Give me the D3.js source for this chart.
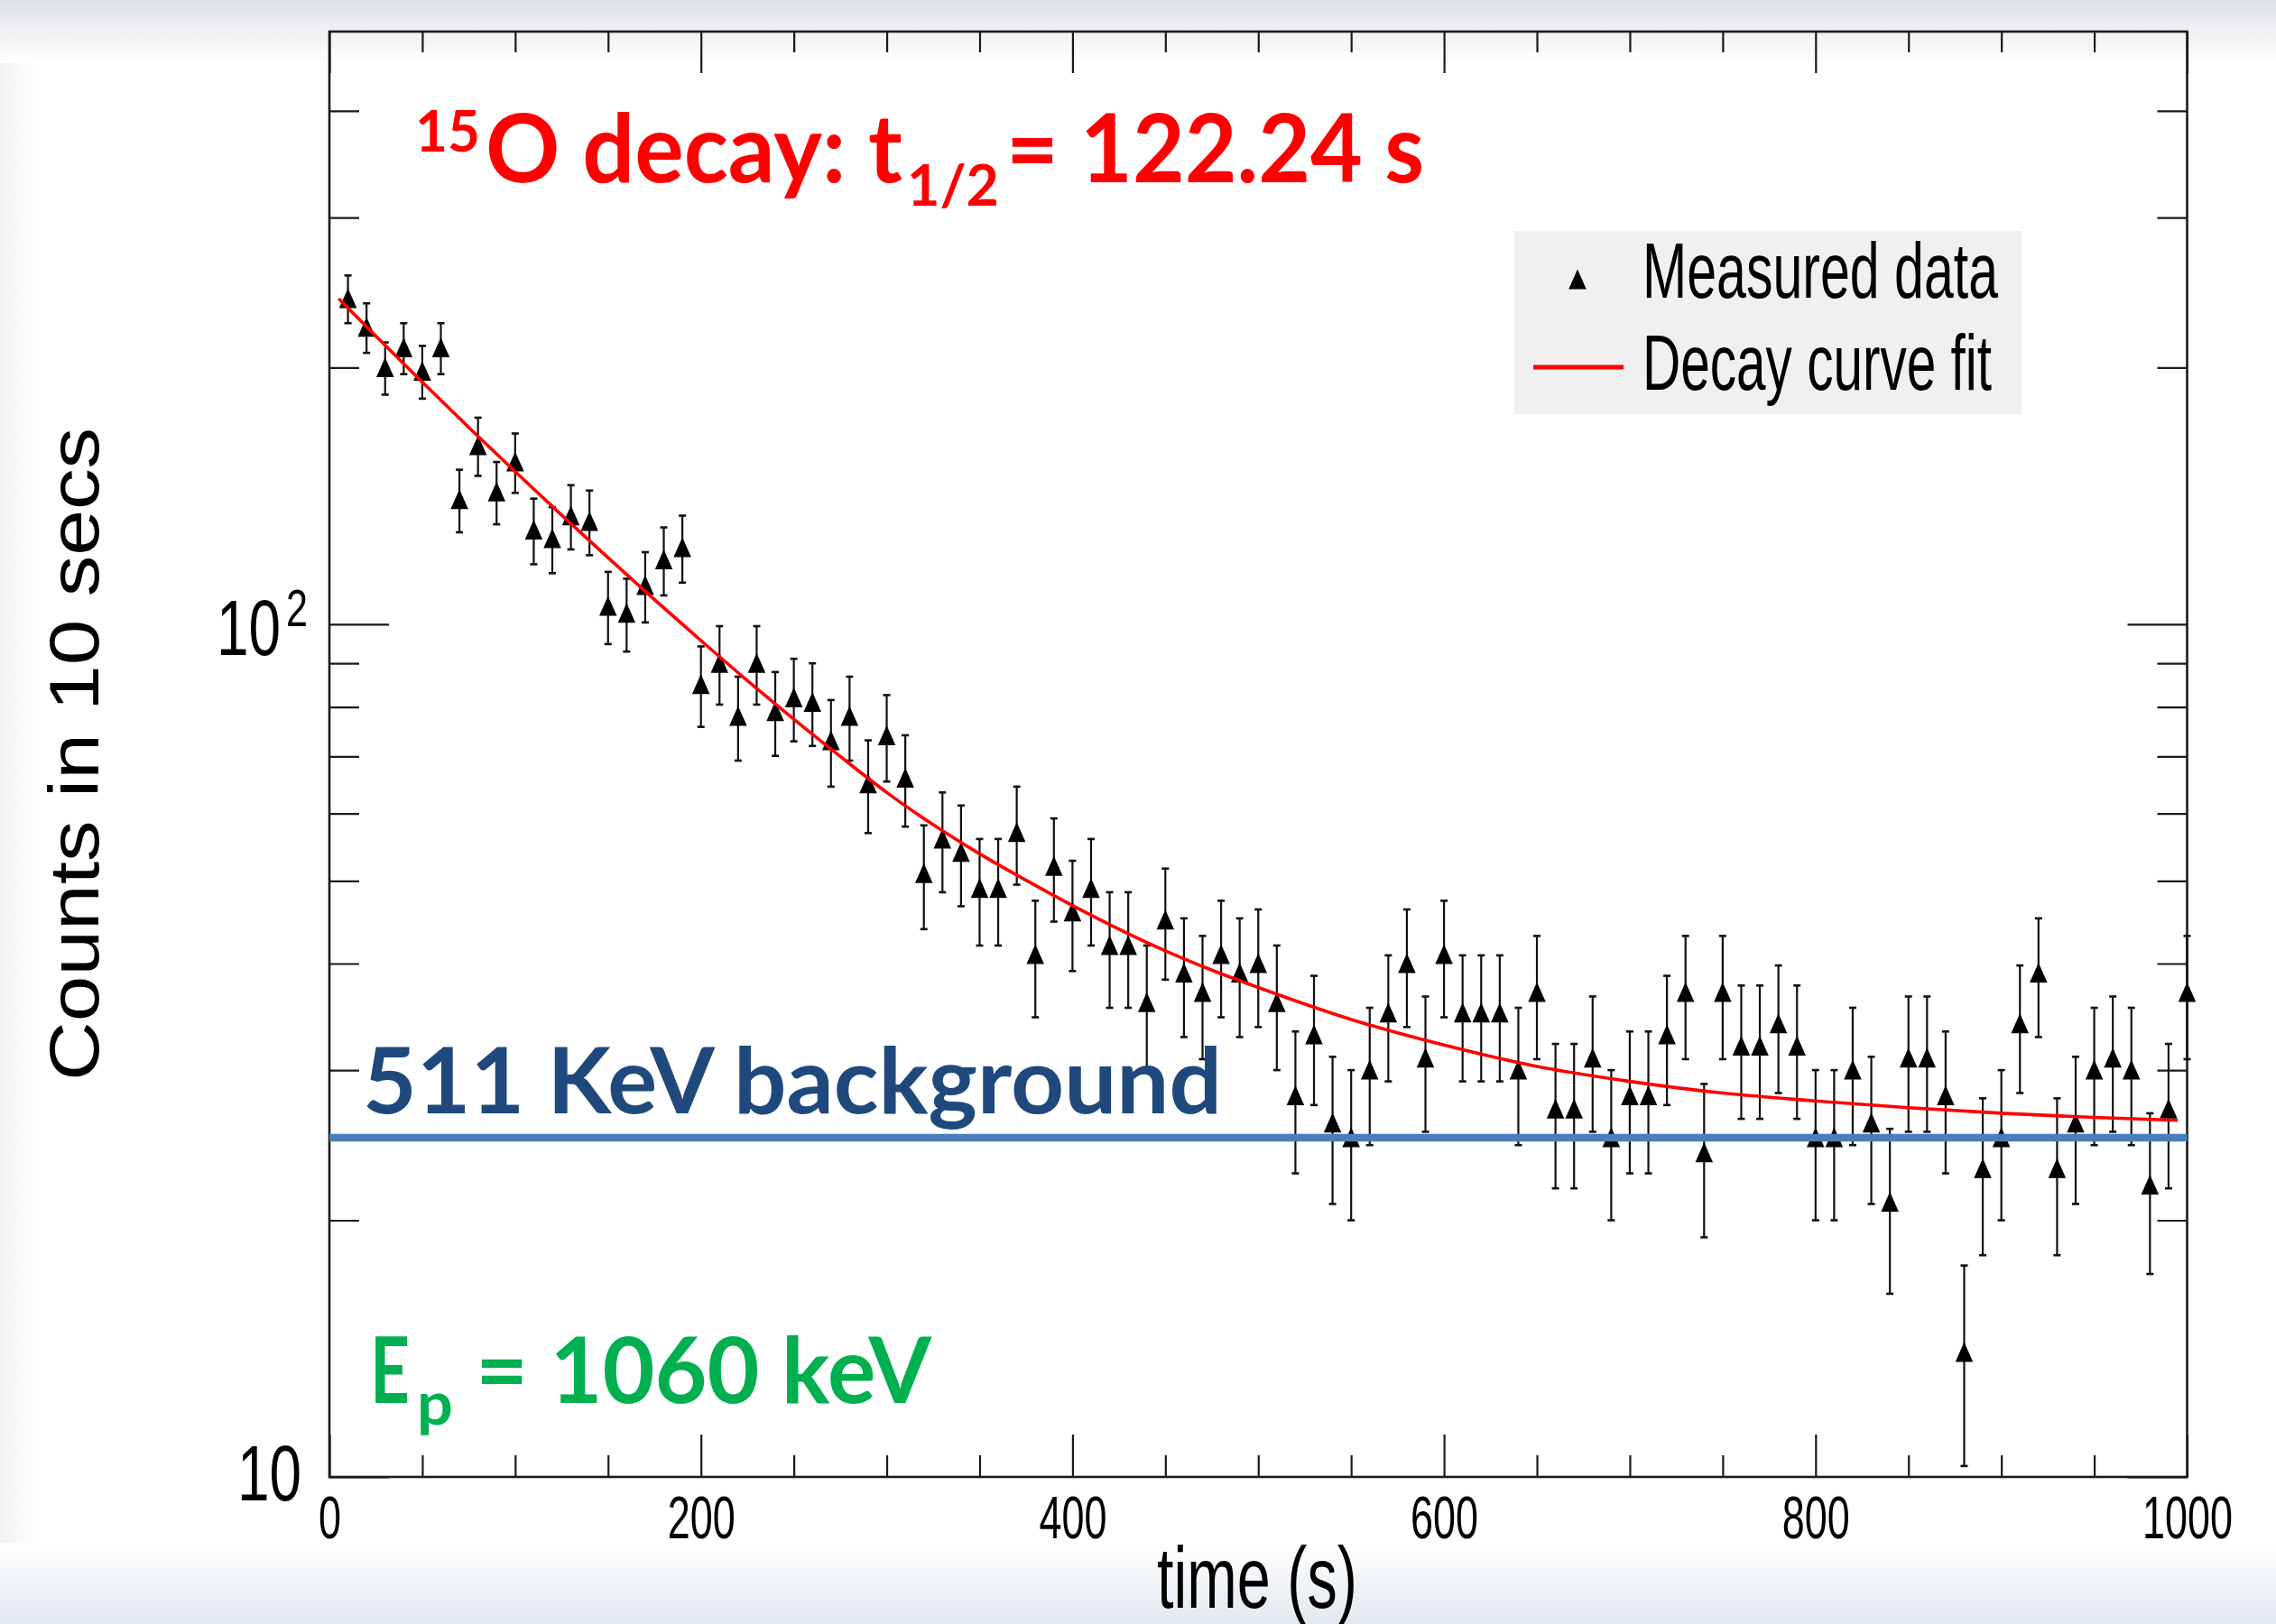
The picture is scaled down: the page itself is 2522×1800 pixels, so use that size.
<!DOCTYPE html>
<html><head><meta charset="utf-8">
<script src="https://cdn.jsdelivr.net/npm/d3@7"></script>
<style>html,body{margin:0;padding:0;background:#fff;} svg{display:block;}</style>
</head><body>
<svg id="chart" width="2522" height="1800"></svg>
<script>
// ---------------- data ----------------
const times = [10,20,30,40,50,60,70,80,90,100,110,120,130,140,150,160,170,180,190,200,
  210,220,230,240,250,260,270,280,290,300,310,320,330,340,350,360,370,380,390,400,
  410,420,430,440,450,460,470,480,490,500,510,520,530,540,550,560,570,580,590,600,
  610,620,630,640,650,660,670,680,690,700,710,720,730,740,750,760,770,780,790,800,
  810,820,830,840,850,860,870,880,890,900,910,920,930,940,950,960,970,980,990,1000];
const counts = [241,223,200,211,198,211,140,162,143,155,
  129,126,134,132,105,103,111,119,123,85,
  90,78,90,79,82,81,73,78,65,74,
  66,51,56,54,49,49,57,41,52,46,
  49,42,42,36,45,39,37,41,39,40,
  36,28,33,26,25,30,35,40,31,41,
  35,35,35,30,37,27,27,31,25,28,
  28,33,37,24,37,32,32,34,32,25,
  25,30,26,21,31,31,28,14,23,25,
  34,39,23,26,30,31,30,22,27,37];
const countErrors = [15.5,14.9,14.1,14.5,14.1,14.5,11.8,12.7,12.0,12.4,
  11.4,11.2,11.6,11.5,10.2,10.1,10.5,10.9,11.1,9.2,
  9.5,8.8,9.5,8.9,9.1,9.0,8.5,8.8,8.1,8.6,
  8.1,7.1,7.5,7.3,7.0,7.0,7.5,6.4,7.2,6.8,
  7.0,6.5,6.5,6.0,6.7,6.2,6.1,6.4,6.2,6.3,
  6.0,5.3,5.7,5.1,5.0,5.5,5.9,6.3,5.6,6.4,
  5.9,5.9,5.9,5.5,6.1,5.2,5.2,5.6,5.0,5.3,
  5.3,5.7,6.1,4.9,6.1,5.7,5.7,5.8,5.7,5.0,
  5.0,5.5,5.1,4.6,5.6,5.6,5.3,3.7,4.8,5.0,
  5.8,6.2,4.8,5.1,5.5,5.6,5.5,4.7,5.2,6.1];
const fitTimes  = [5,25,50,75,100,125,150,175,200,225,250,275,300,325,350,375,400,425,450,475,500,550,600,650,700,750,800,850,900,950,995];
const fitCounts = [241,217.8,192.3,170.2,151,134.3,119.7,106.9,95.7,85.9,77.4,70,63.5,58.2,53.8,50.1,46.8,43.9,41.4,39.3,37.5,34.4,32.1,30.3,29.1,28.2,27.6,27.1,26.7,26.4,26.2];
const backgroundLevel = 25;
const xMajorTicks = [0,200,400,600,800,1000];
const xMinorTicks = [50,100,150,250,300,350,450,500,550,650,700,750,850,900,950];
const yMajorTicks = [10,100];
const yMinorTicks = [20,30,40,50,60,70,80,90,200,300,400];
const legendLabels = ["Measured data","Decay curve fit"];

// ---------------- layout ----------------
const svg = d3.select("#chart");
const M = {left:365, right:2423.5, top:35, bottom:1637};
const x = d3.scaleLinear().domain([0,1000]).range([M.left, M.right]);
const y = d3.scaleLog().domain([10,495.6]).range([M.bottom, M.top]);
const ROOTFONT = "'Liberation Sans', Arial, Helvetica, sans-serif";
const CAL = "Lato, 'Open Sans', sans-serif";

// background gradients
const defs = svg.append("defs");
const gTop = defs.append("linearGradient").attr("id","gTop").attr("x1",0).attr("y1",0).attr("x2",0).attr("y2",1);
gTop.append("stop").attr("offset","0%").attr("stop-color","#dfe2e6");
gTop.append("stop").attr("offset","100%").attr("stop-color","#ffffff");
const gBot = defs.append("linearGradient").attr("id","gBot").attr("x1",0).attr("y1",0).attr("x2",0).attr("y2",1);
gBot.append("stop").attr("offset","0%").attr("stop-color","#ffffff");
gBot.append("stop").attr("offset","100%").attr("stop-color","#e2e8f0");
const gLeft = defs.append("linearGradient").attr("id","gLeft").attr("x1",0).attr("y1",0).attr("x2",1).attr("y2",0);
gLeft.append("stop").attr("offset","0%").attr("stop-color","#f1f2f4");
gLeft.append("stop").attr("offset","100%").attr("stop-color","#ffffff");
svg.append("rect").attr("width",2522).attr("height",1800).attr("fill","#fff");
svg.append("rect").attr("x",0).attr("y",0).attr("width",40).attr("height",1800).attr("fill","url(#gLeft)");
svg.append("rect").attr("x",0).attr("y",0).attr("width",2522).attr("height",70).attr("fill","url(#gTop)");
svg.append("rect").attr("x",0).attr("y",1710).attr("width",2522).attr("height",90).attr("fill","url(#gBot)");

// ---------------- axes ----------------
function styleTicks(g){
  g.select(".domain").remove();
  g.selectAll(".tick line").attr("stroke","#1a1a1a").attr("stroke-width",2.2);
}
svg.append("g").attr("transform",`translate(0,${M.bottom})`)
  .call(d3.axisBottom(x).tickValues(xMajorTicks).tickSize(-47).tickPadding(20).tickFormat(d3.format("d")))
  .call(styleTicks)
  .call(g=>g.selectAll("text").attr("font-size",67).attr("font-family",ROOTFONT).attr("fill","#000")
      .attr("textLength",d=>String(d).length*25).attr("lengthAdjust","spacingAndGlyphs"));
svg.append("g").attr("transform",`translate(0,${M.bottom})`)
  .call(d3.axisBottom(x).tickValues(xMinorTicks).tickSize(-24).tickFormat("")).call(styleTicks);
svg.append("g").attr("transform",`translate(0,${M.top})`)
  .call(d3.axisTop(x).tickValues(xMajorTicks).tickSize(-46).tickFormat("")).call(styleTicks);
svg.append("g").attr("transform",`translate(0,${M.top})`)
  .call(d3.axisTop(x).tickValues(xMinorTicks).tickSize(-23).tickFormat("")).call(styleTicks);
svg.append("g").attr("transform",`translate(${M.left},0)`)
  .call(d3.axisLeft(y).tickValues(yMajorTicks).tickSize(-66).tickFormat("")).call(styleTicks);
svg.append("g").attr("transform",`translate(${M.left},0)`)
  .call(d3.axisLeft(y).tickValues(yMinorTicks).tickSize(-33).tickFormat("")).call(styleTicks);
svg.append("g").attr("transform",`translate(${M.right},0)`)
  .call(d3.axisRight(y).tickValues(yMajorTicks).tickSize(-66).tickFormat("")).call(styleTicks);
svg.append("g").attr("transform",`translate(${M.right},0)`)
  .call(d3.axisRight(y).tickValues(yMinorTicks).tickSize(-33).tickFormat("")).call(styleTicks);

// frame
svg.append("rect").attr("x",M.left).attr("y",M.top).attr("width",M.right-M.left).attr("height",M.bottom-M.top)
  .attr("fill","none").attr("stroke","#1a1a1a").attr("stroke-width",2.6);

// y tick labels (10, 10^2)
svg.append("text").attr("x",334).attr("y",y(10)+26).attr("text-anchor","end")
  .attr("font-family",ROOTFONT).attr("font-size",88).attr("textLength",71).attr("lengthAdjust","spacingAndGlyphs").text("10");
svg.append("text").attr("x",311).attr("y",y(100)+34).attr("text-anchor","end")
  .attr("font-family",ROOTFONT).attr("font-size",88).attr("textLength",71).attr("lengthAdjust","spacingAndGlyphs").text("10");
svg.append("text").attr("x",317).attr("y",y(100)+2)
  .attr("font-family",ROOTFONT).attr("font-size",58).attr("textLength",24).attr("lengthAdjust","spacingAndGlyphs").text("2");

// axis titles
svg.append("text").attr("x",1282).attr("y",1782).attr("font-family",ROOTFONT).attr("font-size",96)
  .attr("textLength",222).attr("lengthAdjust","spacingAndGlyphs").text("time (s)");
svg.append("text").attr("transform","translate(109,836) rotate(-90)").attr("text-anchor","middle")
  .attr("font-family",ROOTFONT).attr("font-size",78).attr("textLength",724).attr("lengthAdjust","spacingAndGlyphs")
  .text("Counts in 10 secs");

// ---------------- marks ----------------
const pts = times.map((t,i)=>({t, n:counts[i], e:countErrors[i]}));
const tri = "M -9.75 10.5 L 9.75 10.5 L 0 -11.5 Z";
const pg = svg.append("g");
const eb = pg.selectAll("g.eb").data(pts).enter().append("g").attr("class","eb");
eb.append("line").attr("x1",d=>x(d.t)).attr("x2",d=>x(d.t)).attr("y1",d=>y(d.n+d.e)).attr("y2",d=>y(d.n-d.e))
  .attr("stroke","#111").attr("stroke-width",2.2);
eb.append("line").attr("x1",d=>x(d.t)-4).attr("x2",d=>x(d.t)+4).attr("y1",d=>y(d.n+d.e)).attr("y2",d=>y(d.n+d.e))
  .attr("stroke","#111").attr("stroke-width",2.6);
eb.append("line").attr("x1",d=>x(d.t)-4).attr("x2",d=>x(d.t)+4).attr("y1",d=>y(d.n-d.e)).attr("y2",d=>y(d.n-d.e))
  .attr("stroke","#111").attr("stroke-width",2.6);
pg.selectAll("path.mk").data(pts).enter().append("path").attr("class","mk")
  .attr("d",tri).attr("transform",d=>`translate(${x(d.t)},${y(d.n)})`).attr("fill","#000");

// fit curve
const fit = fitTimes.map((t,i)=>({t, v:fitCounts[i]}));
svg.append("path").datum(fit)
  .attr("d", d3.line().x(d=>x(d.t)).y(d=>y(d.v)).curve(d3.curveMonotoneX))
  .attr("fill","none").attr("stroke","#ff0000").attr("stroke-width",3.6);

// background line
svg.append("line").attr("x1",x(0)).attr("x2",x(1000)).attr("y1",y(backgroundLevel)).attr("y2",y(backgroundLevel))
  .attr("stroke","#4a7ebb").attr("stroke-width",8.5);

// ---------------- legend ----------------
svg.append("rect").attr("x",1678).attr("y",256).attr("width",562).attr("height",203).attr("fill","#f0f0f0");
svg.append("path").attr("d",tri).attr("transform","translate(1748,310)").attr("fill","#000");
svg.append("line").attr("x1",1699).attr("x2",1799).attr("y1",407).attr("y2",407).attr("stroke","#ff0000").attr("stroke-width",5);
svg.append("text").attr("x",1820).attr("y",330).attr("font-family",ROOTFONT).attr("font-size",87)
  .attr("textLength",394).attr("lengthAdjust","spacingAndGlyphs").text(legendLabels[0]);
svg.append("text").attr("x",1820).attr("y",432).attr("font-family",ROOTFONT).attr("font-size",87)
  .attr("textLength",387).attr("lengthAdjust","spacingAndGlyphs").text(legendLabels[1]);

// ---------------- annotations ----------------
function ann(txt, xx, yy, size, len, color){
  svg.append("text").attr("x",xx).attr("y",yy).attr("font-family",CAL).attr("font-weight",700)
    .attr("font-size",size).attr("fill",color).attr("textLength",len).attr("lengthAdjust","spacingAndGlyphs").text(txt);
}
const RED = "#ff0000";
ann("15", 460, 168, 64, 72, RED);
ann("O decay: t", 538, 202, 105, 462, RED);
ann("1/2", 1005, 228, 64, 102, RED);
ann("= 122.24 s", 1115, 202, 105, 463, RED);
ann("511 KeV background", 402, 1234, 102, 952, "#1f497d");
const GREEN = "#00b050";
ann("E", 410, 1555, 102, 44, GREEN);
ann("p", 462, 1579, 66, 40, GREEN);
ann("= 1060 keV", 527, 1555, 102, 505, GREEN);
</script>
</body></html>
